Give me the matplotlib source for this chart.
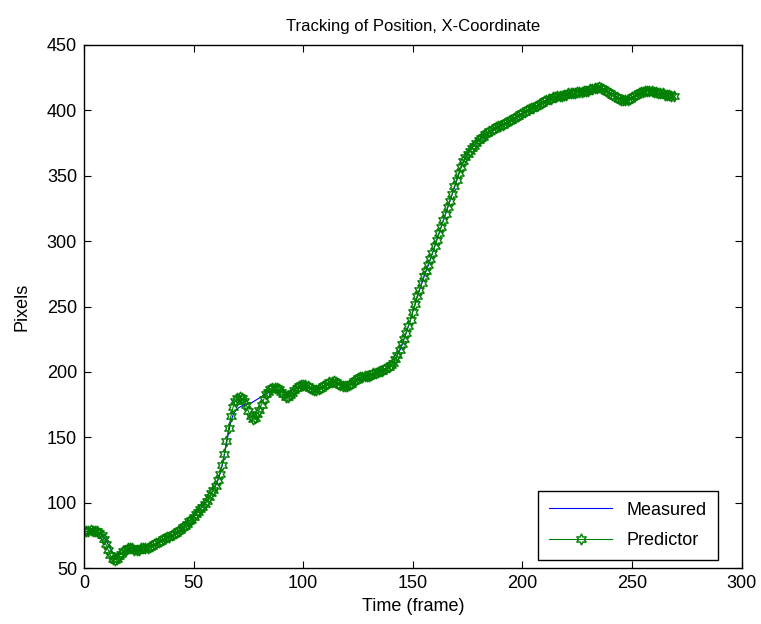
import matplotlib
matplotlib.use("Agg")
import matplotlib.pyplot as plt

plt.rcParams['font.family'] = ['Liberation Sans', 'DejaVu Sans']

# predictor output, one value per frame
predictor = [
    78, 78, 78, 79, 78, 78, 78, 77, 75, 72,
    68, 64, 60, 57, 56, 57, 59, 61, 63, 64,
    65, 65, 65, 64, 64, 64, 65, 65, 65, 65,
    66, 67, 68, 69, 70, 71, 72, 73, 74, 74,
    75, 76, 77, 78, 79, 81, 82, 84, 86, 87,
    89, 91, 93, 95, 97, 99, 101, 104, 107, 110,
    113, 117, 122, 129, 137, 147, 157, 166, 173, 178,
    180, 181, 180, 178, 175, 170, 166, 164, 165, 168,
    171, 175, 179, 183, 185, 187, 188, 188, 188, 187,
    185, 183, 181, 181, 182, 184, 186, 188, 189, 190,
    190, 190, 189, 188, 187, 186, 186, 187, 188, 189,
    190, 191, 192, 192, 193, 192, 191, 190, 189, 189,
    189, 190, 191, 193, 194, 195, 196, 196, 197, 197,
    197, 198, 199, 199, 200, 201, 201, 202, 203, 204,
    205, 207, 210, 213, 217, 221, 225, 230, 235, 240,
    246, 252, 258, 263, 268, 273, 277, 282, 286, 291,
    296, 301, 306, 311, 316, 321, 326, 331, 336, 342,
    347, 352, 357, 361, 364, 367, 369, 371, 373, 375,
    377, 379, 380, 382, 383, 384, 385, 386, 387, 388,
    388, 389, 390, 391, 392, 393, 394, 395, 396, 397,
    398, 399, 400, 401, 402, 402, 403, 404, 405, 406,
    407, 408, 409, 409, 410, 410, 411, 411, 411, 412,
    412, 413, 413, 413, 413, 414, 414, 414, 415, 415,
    415, 416, 416, 417, 417, 418, 417, 416, 415, 414,
    413, 412, 411, 410, 409, 408, 408, 408, 408, 409,
    410, 411, 412, 413, 414, 414, 415, 415, 415, 415,
    414, 414, 413, 413, 413, 412, 412, 412, 411, 411,
]

# measured position, one value per frame
measured = [
    78, 78, 78, 78, 78, 78, 78, 77, 76, 74,
    71, 68, 65, 62, 61, 60, 60, 61, 62, 63,
    64, 65, 65, 65, 64, 64, 65, 65, 65, 65,
    66, 67, 68, 69, 70, 71, 72, 73, 74, 74,
    75, 76, 77, 78, 79, 81, 82, 84, 86, 87,
    89, 91, 93, 95, 97, 99, 101, 104, 107, 110,
    113, 117, 122, 128, 136, 145, 154, 162, 167, 170,
    172, 173, 174, 175, 175, 176, 176, 177, 178, 179,
    180, 181, 182, 183, 184, 185, 186, 186, 186, 185,
    184, 184, 184, 184, 185, 186, 187, 188, 189, 189,
    189, 189, 189, 188, 187, 187, 187, 187, 188, 189,
    190, 191, 191, 192, 192, 192, 191, 190, 190, 190,
    190, 190, 191, 192, 193, 194, 195, 196, 196, 197,
    197, 198, 198, 199, 200, 200, 201, 202, 203, 204,
    205, 207, 210, 213, 216, 220, 225, 230, 235, 240,
    246, 251, 257, 262, 267, 272, 277, 281, 286, 291,
    296, 301, 306, 311, 316, 321, 326, 331, 336, 341,
    346, 351, 356, 360, 363, 366, 369, 371, 373, 375,
    377, 378, 380, 381, 383, 384, 385, 386, 387, 388,
    388, 389, 390, 391, 392, 393, 394, 395, 396, 397,
    398, 399, 400, 401, 401, 402, 403, 404, 405, 406,
    407, 408, 408, 409, 410, 410, 410, 411, 411, 412,
    412, 412, 413, 413, 413, 414, 414, 414, 414, 415,
    415, 415, 416, 416, 417, 417, 417, 416, 415, 414,
    413, 412, 411, 410, 409, 409, 408, 408, 409, 409,
    410, 411, 412, 413, 413, 414, 414, 415, 415, 415,
    414, 414, 413, 413, 413, 412, 412, 412, 411, 411,
]

frames = list(range(len(predictor)))

fig = plt.figure(figsize=(7.61, 6.24), dpi=100)
ax = fig.add_axes([0.1104, 0.0897, 0.864, 0.8382])

ax.plot(frames, measured, color='#0000ff', linewidth=0.8, label='Measured')
ax.plot(frames, predictor, color='#008000', linewidth=0.8, marker=(6, 1, 0),
        markersize=8, markerfacecolor='none', markeredgecolor='#008000',
        markeredgewidth=1.0, label='Predictor')

ax.set_xlim(0, 300)
ax.set_ylim(50, 450)
ax.set_xticks(range(0, 301, 50))
ax.set_yticks(range(50, 451, 50))
ax.tick_params(direction='in', top=True, right=True, labelsize=13, length=5, pad=5)
for s in ax.spines.values():
    s.set_linewidth(1.0)

ax.set_title('Tracking of Position, X-Coordinate', fontsize=12, pad=10)
ax.set_xlabel('Time (frame)', fontsize=13, labelpad=4)
ax.set_ylabel('Pixels', fontsize=13, labelpad=12)

leg = ax.legend(loc='lower right', bbox_to_anchor=(0.9635, 0.015), fontsize=13,
                fancybox=False, framealpha=1, edgecolor='black', borderaxespad=0,
                handlelength=3.5, borderpad=0.6, labelspacing=0.75)
leg.get_frame().set_linewidth(1.0)

fig.savefig('out.png', dpi=100)
